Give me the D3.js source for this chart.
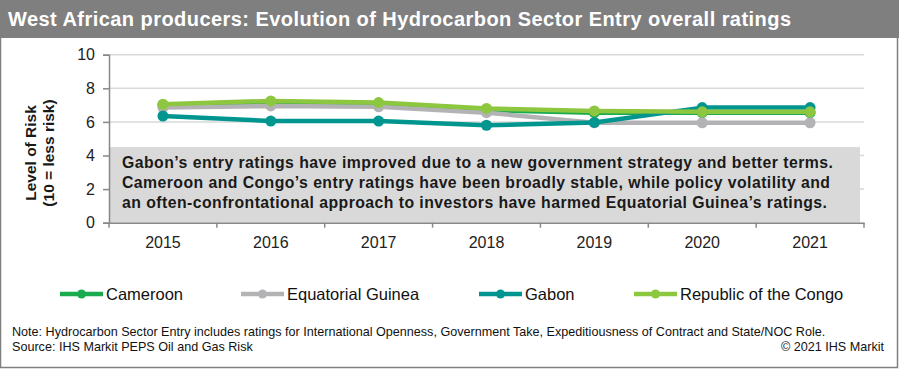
<!DOCTYPE html>
<html><head><meta charset="utf-8">
<script src="https://cdn.jsdelivr.net/npm/d3@7"></script>
<style>
html,body{margin:0;padding:0;background:#fff;}
svg{display:block;font-family:"Liberation Sans",Arial,sans-serif;}
</style></head>
<body>
<svg id="chart" width="899" height="369"></svg>
<script>
const years = ["2015","2016","2017","2018","2019","2020","2021"];
const cameroon = [7.0, 7.1, 7.0, 6.7, 6.55, 6.55, 6.55];
const equatorialGuinea = [6.85, 6.95, 6.9, 6.55, 5.95, 5.95, 5.95];
const gabon = [6.35, 6.05, 6.05, 5.8, 5.97, 6.85, 6.85];
const congo = [7.05, 7.25, 7.15, 6.8, 6.65, 6.6, 6.6];
const seriesNames = ["Cameroon", "Equatorial Guinea", "Gabon", "Republic of the Congo"];
const seriesColors = ["#1aab4f", "#b3b3b6", "#00968f", "#8dc63f"];
const yTicks = [0, 2, 4, 6, 8, 10];
const title = "West African producers: Evolution of Hydrocarbon Sector Entry overall ratings";
const yLabel = ["Level of Risk", "(10 = less risk)"];
const noteLines = [
  "Gabon\u2019s entry ratings have improved due to a new government strategy and better terms.",
  "Cameroon and Congo\u2019s entry ratings have been broadly stable, while policy volatility and",
  "an often-confrontational approach to investors have harmed Equatorial Guinea\u2019s ratings."
];
const footNote = "Note: Hydrocarbon Sector Entry includes ratings for International Openness, Government Take, Expeditiousness of Contract and State/NOC Role.";
const source = "Source: IHS Markit PEPS Oil and Gas Risk";
const copyright = "\u00a9 2021 IHS Markit";
const boxValue = 4.5;

(function(){
const seriesValues = [cameroon, equatorialGuinea, gabon, congo];
const svg = d3.select("#chart");

// frame
svg.append("rect").attr("x",0.5).attr("y",0.5).attr("width",897).attr("height",367)
  .attr("fill","#fff").attr("stroke","#808080").attr("stroke-width",1.5);
svg.append("rect").attr("x",0).attr("y",0).attr("width",899).attr("height",38).attr("fill","#7f7f7f");
svg.append("text").attr("x",8).attr("y",26).attr("fill","#fff")
  .attr("font-size",20).attr("font-weight","bold")
  .attr("textLength",783).attr("lengthAdjust","spacing").text(title);

const pL = 109, pR = 864, pT = 54.7, pB = 222.7;
const x = d3.scaleBand().domain(years).range([pL, pR]);
const y = d3.scaleLinear().domain([0, 10]).range([pB, pT]);

// gridlines
svg.append("g").selectAll("line").data(yTicks.filter(d => d > 0)).join("line")
  .attr("x1", pL).attr("x2", pR).attr("y1", d => y(d)).attr("y2", d => y(d))
  .attr("stroke", "#d9d9d9").attr("stroke-width", 1.5);

// annotation box
svg.append("rect").attr("x", pL + 1).attr("y", y(boxValue))
  .attr("width", pR - 4 - pL - 1).attr("height", y(0) - y(boxValue))
  .attr("fill", "#d9d9d9");
const annLen = [711, 708, 705];
const ann = svg.append("g").attr("font-size", 15.8).attr("font-weight", "bold").attr("fill", "#1a1a1a");
noteLines.forEach((t, i) => ann.append("text").attr("x", 122).attr("y", 168 + i * 20)
  .attr("textLength", annLen[i]).attr("lengthAdjust", "spacing").text(t));

// y axis
const yAxis = svg.append("g").attr("transform", `translate(${pL},0)`)
  .call(d3.axisLeft(y).tickValues(yTicks).tickSize(6).tickPadding(8));
yAxis.select(".domain").attr("stroke", "#888").attr("stroke-width", 1.5);
yAxis.selectAll(".tick line").attr("stroke", "#888").attr("stroke-width", 1.5);
yAxis.selectAll(".tick text").attr("font-size", 16).attr("fill", "#222")
  .attr("font-family", "Liberation Sans, Arial, sans-serif");

// x axis
const xAxis = svg.append("g").attr("transform", `translate(0,${pB})`)
  .call(d3.axisBottom(x).tickSize(0).tickPadding(14));
xAxis.select(".domain").attr("stroke", "#888").attr("stroke-width", 1.5);
xAxis.selectAll(".tick text").attr("font-size", 16).attr("fill", "#222")
  .attr("font-family", "Liberation Sans, Arial, sans-serif");
const edges = years.map(d => x(d)).concat([pR]);
svg.append("g").selectAll("line").data(edges).join("line")
  .attr("x1", d => d).attr("x2", d => d).attr("y1", pB).attr("y2", pB + 5)
  .attr("stroke", "#888").attr("stroke-width", 1.5);

// y label
const yl = svg.append("text").attr("transform", "translate(36,153) rotate(-90)")
  .attr("text-anchor", "middle").attr("font-size", 15.5).attr("font-weight", "bold").attr("fill", "#1a1a1a");
yLabel.forEach((t, i) => yl.append("tspan").attr("x", 0).attr("dy", i === 0 ? 0 : 18).text(t));

// lines
const line = d3.line().x((d, i) => x(years[i]) + x.bandwidth() / 2).y(d => y(d));
seriesValues.forEach((vals, si) => {
  const g = svg.append("g");
  g.append("path").attr("d", line(vals)).attr("fill", "none")
    .attr("stroke", seriesColors[si]).attr("stroke-width", 4.5).attr("stroke-linejoin", "round");
  g.selectAll("circle").data(vals).join("circle")
    .attr("cx", (d, i) => x(years[i]) + x.bandwidth() / 2).attr("cy", d => y(d)).attr("r", 5.5)
    .attr("fill", seriesColors[si]);
});

// legend
const legX = [60, 241, 479, 634];
const leg = svg.append("g");
seriesNames.forEach((n, i) => {
  const g = leg.append("g").attr("transform", `translate(${legX[i]},294)`);
  g.append("line").attr("x1", 0).attr("x2", 43).attr("y1", 0).attr("y2", 0)
    .attr("stroke", seriesColors[i]).attr("stroke-width", 4.5);
  g.append("circle").attr("cx", 21.5).attr("cy", 0).attr("r", 4.5).attr("fill", seriesColors[i]);
  g.append("text").attr("x", 46).attr("y", 6).attr("font-size", 16.5).attr("fill", "#111").text(n);
});

// footnotes
svg.append("text").attr("x", 12).attr("y", 336).attr("font-size", 12.6).attr("fill", "#111").text(footNote);
svg.append("text").attr("x", 12).attr("y", 351).attr("font-size", 12.6).attr("fill", "#111").text(source);
svg.append("text").attr("x", 884).attr("y", 351).attr("text-anchor", "end").attr("font-size", 12.6).attr("fill", "#111").text(copyright);
})();
</script>
</body></html>
